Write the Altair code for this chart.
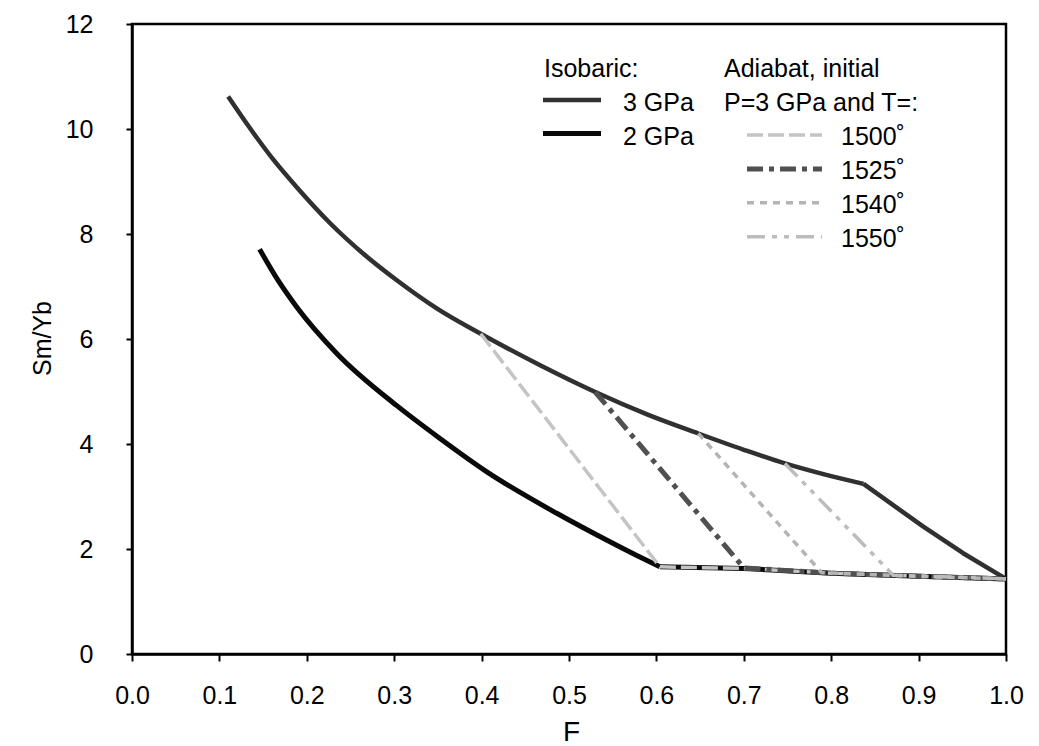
import altair as alt
import pandas as pd

# ---- data ----
F_3gpa = [0.110, 0.131, 0.162, 0.188, 0.227, 0.265, 0.303, 0.350, 0.399, 0.467, 0.530, 0.590, 0.648, 0.700, 0.747, 0.790, 0.837, 0.905, 0.951, 1.000]
S_3gpa = [10.62, 10.11, 9.41, 8.90, 8.20, 7.62, 7.12, 6.57, 6.10, 5.50, 4.99, 4.56, 4.20, 3.89, 3.63, 3.43, 3.24, 2.43, 1.92, 1.43]
KINK_3 = 16  # index of the sharp bend at F=0.837

F_2gpa = [0.146, 0.167, 0.188, 0.234, 0.303, 0.352, 0.406, 0.486, 0.543, 0.577, 0.604, 0.700, 0.800, 0.900, 1.000]
S_2gpa = [7.71, 7.12, 6.62, 5.73, 4.73, 4.11, 3.47, 2.68, 2.17, 1.88, 1.66, 1.63, 1.54, 1.48, 1.43]
KINK_2 = 10  # index of the bend at F=0.604

F_1500 = [0.399, 0.604, 0.700, 0.800, 0.900, 1.000]
S_1500 = [6.10, 1.66, 1.63, 1.54, 1.48, 1.43]
F_1525 = [0.530, 0.700, 0.800, 0.900, 1.000]
S_1525 = [4.99, 1.64, 1.54, 1.48, 1.43]
F_1540 = [0.648, 0.789, 0.900, 1.000]
S_1540 = [4.20, 1.55, 1.48, 1.43]
F_1550 = [0.747, 0.871, 0.950, 1.000]
S_1550 = [3.63, 1.50, 1.46, 1.43]

x_ticks = [0.0, 0.1, 0.2, 0.3, 0.4, 0.5, 0.6, 0.7, 0.8, 0.9, 1.0]
y_ticks = [0, 2, 4, 6, 8, 10, 12]

legend_head = ["Isobaric:", "Adiabat, initial", "P=3 GPa and T=:"]
iso_labels = ["3 GPa", "2 GPa"]
adi_labels = ["1500˚", "1525˚", "1540˚", "1550˚"]

FONT = "Liberation Sans"
FS = 25

def frame(F, S):
    return pd.DataFrame({"F": F, "SmYb": S, "i": list(range(len(F)))})

x_enc = alt.X("F:Q", scale=alt.Scale(domain=[0, 1], nice=False, zero=False),
              axis=alt.Axis(values=x_ticks, format=".1f", title="F", labelFlush=False,
                            labelOverlap=False, labelPadding=22, tickSize=7,
                            titleFontSize=28, titleY=86, titleX=439, titleBaseline="alphabetic",
                            titleAlign="center"))
y_enc = alt.Y("SmYb:Q", scale=alt.Scale(domain=[0, 12], nice=False),
              axis=alt.Axis(values=y_ticks, format="d", title="Sm/Yb", labelFlush=False,
                            labelOverlap=False, labelPadding=33, tickSize=6,
                            titleFontSize=25, titleAngle=270, titleX=-82, titleY=314,
                            titleBaseline="alphabetic", titleAlign="center"))

def series(F, S, interp="linear", **mk):
    return alt.Chart(frame(F, S)).mark_line(strokeCap="butt", strokeJoin="round",
                                            interpolate=interp, **mk).encode(
        x=x_enc, y=y_enc, order="i:Q")

styles = {
    "3": dict(color="#303030", strokeWidth=4.5),
    "2": dict(color="#0a0a0a", strokeWidth=5),
    "1500": dict(color="#c4c4c4", strokeWidth=3.5, strokeDash=[16, 5]),
    "1525": dict(color="#505050", strokeWidth=5, strokeDash=[16, 6, 5, 6]),
    "1540": dict(color="#b4b4b4", strokeWidth=3.5, strokeDash=[7, 6]),
    "1550": dict(color="#bcbcbc", strokeWidth=3.5, strokeDash=[18, 7, 5, 7, 5, 7]),
}

layers = [
    series(F_3gpa[:KINK_3 + 1], S_3gpa[:KINK_3 + 1], "monotone", **styles["3"]),
    series(F_3gpa[KINK_3:], S_3gpa[KINK_3:], "linear", **styles["3"]),
    series(F_2gpa[:KINK_2 + 1], S_2gpa[:KINK_2 + 1], "monotone", **styles["2"]),
    series(F_2gpa[KINK_2:], S_2gpa[KINK_2:], "linear", **styles["2"]),
    series(F_1500, S_1500, **styles["1500"]),
    series(F_1525, S_1525, **styles["1525"]),
    series(F_1540, S_1540, **styles["1540"]),
    series(F_1550, S_1550, **styles["1550"]),
]

one = pd.DataFrame({"k": [0]})

def text(label, x, y):
    return alt.Chart(one).mark_text(text=label, align="left", baseline="alphabetic",
                                    font=FONT, fontSize=FS, color="black").encode(
        x=alt.value(x), y=alt.value(y))

def swatch(x1, x2, y, style):
    return alt.Chart(one).mark_rule(strokeCap="butt", **style).encode(
        x=alt.value(x1), x2=alt.value(x2), y=alt.value(y))

# legend (pixel positions relative to plot area)
layers += [
    text(legend_head[0], 412, 53),
    text(legend_head[1], 592, 53),
    text(legend_head[2], 592, 87),
    text(iso_labels[0], 491, 87),
    text(iso_labels[1], 491, 121),
    swatch(411, 469, 76, styles["3"]),
    swatch(411, 469, 109.5, styles["2"]),
]
adi_keys = ["1500", "1525", "1540", "1550"]
for k, (lab, key) in enumerate(zip(adi_labels, adi_keys)):
    yb = 121 + 33.9 * k
    layers.append(text(lab, 709, yb))
    layers.append(swatch(615, 690, yb - 10, styles[key]))

chart = alt.layer(*layers).properties(
    width=874, height=630,
    padding={"left": 132, "top": 24, "right": 33, "bottom": 92},
    autosize=alt.AutoSizeParams(type="none"),
    background="white",
).configure_view(stroke="black", strokeWidth=2.5).configure_axis(
    grid=False, domainColor="black", domainWidth=2.5, tickColor="black", tickWidth=2,
    labelFont=FONT, labelFontSize=FS, labelColor="black",
    titleFont=FONT, titleFontWeight="normal", titleColor="black",
)

chart.save("out.html", embed_options={"renderer": "svg", "actions": False})
